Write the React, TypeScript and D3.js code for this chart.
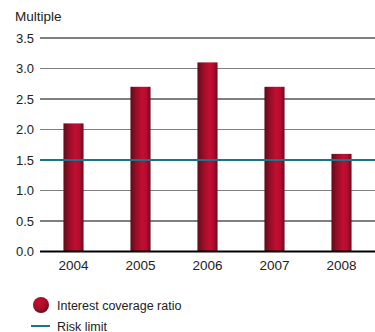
import React from "react";
import * as d3 from "d3";

const years = ["2004", "2005", "2006", "2007", "2008"];
const coverage = [2.1, 2.7, 3.1, 2.7, 1.6];
const riskLimit = 1.5;
const yTicks = [0, 0.5, 1.0, 1.5, 2.0, 2.5, 3.0, 3.5];

const W = 375;
const H = 332;
const FONT = "'Liberation Sans', Arial, sans-serif";

export default function App() {
  const x = d3.scaleBand<string>().domain(years).range([40, 375]).paddingInner(0.7).paddingOuter(0.35);
  const y = d3.scaleLinear().domain([0, 3.5]).range([251.5, 38]);
  const gridColor = (v: number) => {
    if (v === 0) return "#000";
    if (v === riskLimit) return "none";
    return Math.round(v * 2) % 2 === 0 ? "#808080" : "#000";
  };
  return (
    <svg width={W} height={H} style={{ position: "absolute", left: 0, top: 0 }} fontFamily={FONT}>
      <defs>
        <linearGradient id="barGrad" x1="0" x2="1" y1="0" y2="0">
          <stop offset="0" stopColor="#5e0c1a" />
          <stop offset="0.3" stopColor="#9a0e28" />
          <stop offset="0.6" stopColor="#c40d33" />
          <stop offset="0.8" stopColor="#b20c2e" />
          <stop offset="1" stopColor="#6a0c1c" />
        </linearGradient>
        <radialGradient id="dotGrad" cx="0.4" cy="0.35" r="0.7">
          <stop offset="0" stopColor="#c8102e" />
          <stop offset="0.6" stopColor="#a50d28" />
          <stop offset="1" stopColor="#5e0c1a" />
        </radialGradient>
      </defs>
      <text x={15} y={20.5} fontSize={13.5} fill="#222">Multiple</text>
      {yTicks.map((t) => (
        <g key={t}>
          {t !== riskLimit && t !== 0 && (
            <line x1={40} x2={375} y1={y(t)} y2={y(t)} stroke={gridColor(t)} strokeWidth={1} />
          )}
          <text x={34} y={y(t) + 4.5} textAnchor="end" fontSize={13} fill="#222">
            {t.toFixed(1)}
          </text>
        </g>
      ))}
      {years.map((yr, i) => (
        <rect
          key={yr}
          x={x(yr)}
          y={y(coverage[i])}
          width={x.bandwidth()}
          height={y(0) - y(coverage[i])}
          fill="url(#barGrad)"
        />
      ))}
      <line x1={40} x2={375} y1={y(riskLimit)} y2={y(riskLimit)} stroke="#1a7585" strokeWidth={2} />
      <line x1={40} x2={375} y1={y(0)} y2={y(0)} stroke="#000" strokeWidth={2} />
      {years.map((yr) => (
        <text key={yr} x={(x(yr) as number) + x.bandwidth() / 2} y={269.5} textAnchor="middle" fontSize={13.5} fill="#222">
          {yr}
        </text>
      ))}
      <circle cx={41} cy={305} r={8} fill="url(#dotGrad)" />
      <text x={57} y={310} fontSize={12.5} fill="#222">Interest coverage ratio</text>
      <line x1={31} x2={50} y1={326} y2={326} stroke="#1a7585" strokeWidth={2} />
      <text x={57} y={330.5} fontSize={12.5} fill="#222">Risk limit</text>
    </svg>
  );
}
